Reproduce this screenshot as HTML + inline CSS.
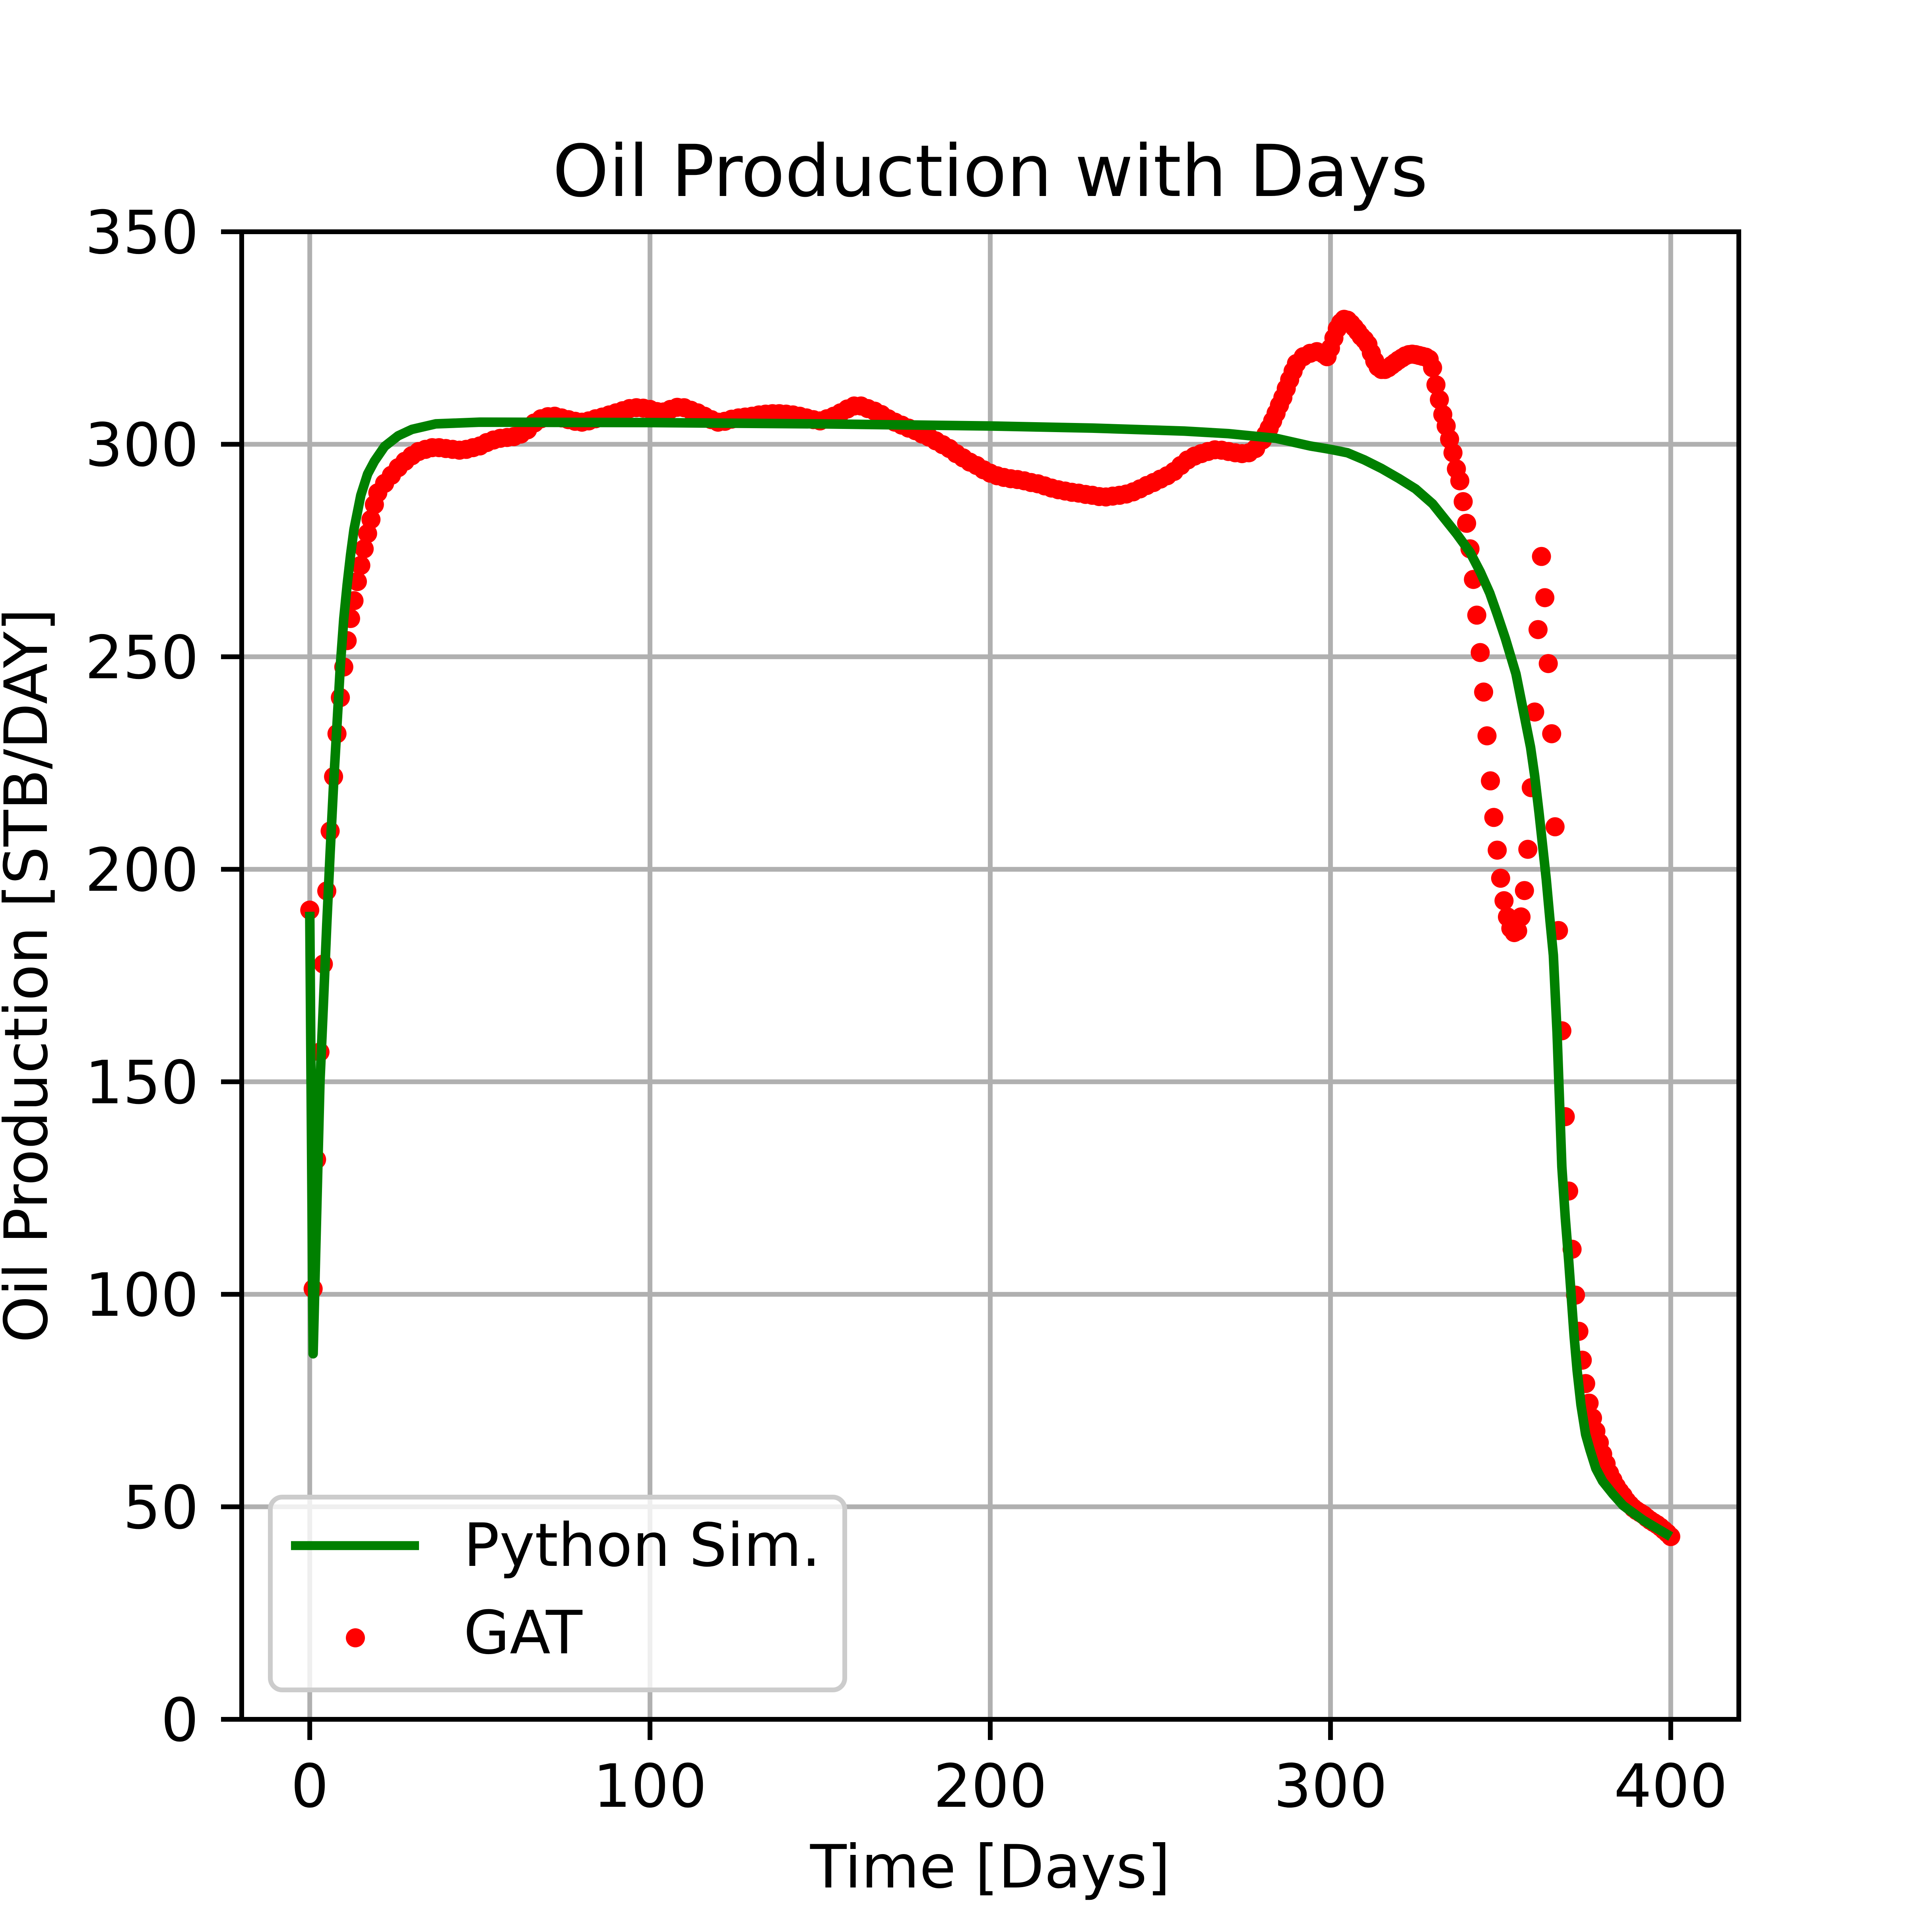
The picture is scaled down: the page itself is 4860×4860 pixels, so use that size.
<!DOCTYPE html>
<html><head><meta charset="utf-8"><style>
html,body{margin:0;padding:0;background:#fff}
svg{display:block}
text{font-family:"DejaVu Sans","Liberation Sans",sans-serif;fill:#000}
</style></head><body>
<svg id="chart" xmlns="http://www.w3.org/2000/svg" width="4860" height="4860" viewBox="0 0 4860 4860">
<rect width="4860" height="4860" fill="#fff"/>
<g id="grid"></g>
<g id="plot"></g>
<rect x="608" y="583" width="3766" height="3742" fill="none" stroke="#000" stroke-width="12"/>
<g id="ticks"></g>
<text x="2491" y="493" font-size="180" text-anchor="middle">Oil Production with Days</text>
<text x="2491" y="4748" font-size="150" text-anchor="middle">Time [Days]</text>
<text x="0" y="0" font-size="150" text-anchor="middle" transform="translate(118,2454) rotate(-90)">Oil Production [STB/DAY]</text>
<g>
<rect x="680" y="3766" width="1445" height="485" rx="30" fill="#fff" fill-opacity="0.8" stroke="#cccccc" stroke-width="12"/>
<line x1="732" y1="3888" x2="1054" y2="3888" stroke="#008000" stroke-width="22.5"/>
<text x="1166" y="3939" font-size="150">Python Sim.</text>
<circle cx="894" cy="4120" r="24" fill="#ff0000"/>
<text x="1166" y="4159" font-size="150">GAT</text>
</g>
</svg>
<script>
const xTicks = [0, 100, 200, 300, 400];
const yTicks = [0, 50, 100, 150, 200, 250, 300, 350];
const simDays = [0,1,2,3,4,5,6,7,8,9,10,11,12,13,15,17,19,22,26,30,37,50,100,150,200,230,257,270,284,294,300,305,310,315,320,325,330,334,337,341,344,346.8,349,351.4,354.5,356,358.8,360,361.3,363.4,364.5,365.5,366.6,368,369,370,371.6,372.5,373.6,375,376.3,378,380,383,386,392,397.7,400];
const simValues = [190,86,118,150,168,187,204,220,234,248,259,267,274,280,288,293,296,299.5,302,303.5,304.8,305.2,305.1,304.8,304.3,303.8,303.1,302.5,301.4,299.6,298.8,298,296.3,294.3,292,289.5,286,282,279,274.6,270,265,260,254.3,246,240,228.7,222,213.2,197.7,188,179.8,161.4,130,118,108,90.2,82,74,67,63.3,59,56,53,50.3,46.8,44.1,43];
const gatDays = [0,1,2,3,4,5,6,7,8,9,10,11,12,13,14,15,16,17,18,19,20,22,24,26,28,30,32,34,36,38,40,42,44,46,48,50,52,54,56,58,60,62,64,66,68,70,72,74,76,78,80,82,84,86,88,90,92,94,96,98,100,102,104,106,108,110,112,114,116,118,120,122,124,126,128,130,132,134,136,138,140,142,144,146,148,150,152,154,156,158,160,162,164,166,168,170,172,174,176,178,180,182,184,186,188,190,192,194,196,198,200,202,204,206,208,210,212,214,216,218,220,222,224,226,228,230,232,234,236,238,240,242,244,246,248,250,252,254,256,258,260,262,264,266,268,270,272,274,276,278,280,281,282,283,284,285,286,287,288,289,290,292,294,296,298,299,300,301,302,303,304,305,306,307,308,309,310,311,312,313,314,315,316,317,318,319,320,321,322,323,324,325,326,327,328,329,330,331,332,333,334,335,336,337,338,339,340,341,342,343,344,345,346,347,348,349,350,351,352,353,354,355,356,357,358,359,360,361,362,363,364,365,366,367,368,369,370,371,372,373,374,375,376,377,378,379,380,381,382,383,384,385,386,387,388,389,390,391,392,393,394,395,396,397,398,399,400];
const gatValues = [190.4,101.3,131.7,157,177.7,194.9,209,221.8,231.9,240.4,247.6,253.8,259,263.2,267.7,271.5,275.4,279,282.3,285.8,288.6,290.8,292.7,294.5,296,297.3,298.3,298.8,299.2,299.2,299,298.8,298.6,298.8,299.2,299.6,300.4,301,301.4,301.6,301.8,302.4,303.4,305,306,306.5,306.6,306.2,305.8,305.4,305.2,305.5,306,306.4,306.9,307.4,307.9,308.4,308.6,308.5,308.2,307.7,307.6,308.2,308.7,308.6,308,307.4,306.6,305.8,305.2,305.4,305.9,306.2,306.4,306.6,306.9,307.1,307.2,307.2,307.1,306.9,306.6,306.2,305.8,305.5,306,306.6,307.4,308.3,309,309,308.4,307.8,307,306,305.2,304.5,303.8,303.2,302.4,301.7,300.8,299.9,299,297.8,296.8,295.8,295,294,293.2,292.6,292.2,291.9,291.7,291.4,291,290.7,290.2,289.7,289.3,289,288.7,288.5,288.2,288,287.7,287.6,287.8,288,288.3,288.8,289.5,290.3,291,291.8,292.6,293.6,295,296.3,297.2,297.8,298.3,298.7,298.6,298.3,298,297.8,298,299,301,302.3,303.8,305.5,307.3,309.2,311,313.1,315.2,317.2,319,320.6,321.4,321.8,321.2,320.6,322.6,325,327.2,328.6,329.4,329.2,328.4,327.5,326.5,325.4,324.6,323.5,321.5,319.6,318.2,317.6,317.6,318,318.6,319.2,319.8,320.3,320.8,321.1,321.2,321.1,320.9,320.7,320.5,320,318,314,310.5,307,304.3,301.2,298,294.2,291.4,286.5,281.4,275.4,268.2,259.8,251,241.7,231.4,220.8,212.2,204.5,197.9,192.6,188.8,186.1,185.1,185.5,188.8,195,204.7,219.2,237,256.4,273.6,263.9,248.4,231.9,210,185.6,162,141.8,124.3,110.6,99.8,91.3,84.5,79,74.4,70.9,67.8,65.1,62.4,60.1,57.9,56.3,54.8,53.6,52.6,51.4,50.5,49.7,49.1,48.6,48.1,47.4,46.8,46.3,45.8,45.2,44.5,43.8,43];

const NS = 'http://www.w3.org/2000/svg';
const AX = {l:608, r:4374, t:583, b:4325, xmin:-20, xmax:420, ymin:0, ymax:350};
function sx(v){ return AX.l + (v - AX.xmin) / (AX.xmax - AX.xmin) * (AX.r - AX.l); }
function sy(v){ return AX.b - (v - AX.ymin) / (AX.ymax - AX.ymin) * (AX.b - AX.t); }
function mk(tag, attrs, parent){
  const el = document.createElementNS(NS, tag);
  for (const k in attrs) el.setAttribute(k, attrs[k]);
  parent.appendChild(el);
  return el;
}
const grid = document.getElementById('grid');
const ticks = document.getElementById('ticks');
const plot = document.getElementById('plot');

xTicks.forEach(function(t){
  const x = sx(t);
  const g = mk('line', {x1:x, y1:AX.t, x2:x, y2:AX.b, stroke:'#b0b0b0', 'stroke-width':12}, grid);
  
  
  const tk = mk('line', {x1:x, y1:AX.b, x2:x, y2:AX.b + 52, stroke:'#000', 'stroke-width':12}, ticks);
  
  
  const lb = mk('text', {x:x, y:4545, 'font-size':150, 'text-anchor':'middle'}, ticks);
  
  
  lb.textContent = String(t);
});
yTicks.forEach(function(t){
  const y = sy(t);
  const g = mk('line', {x1:AX.l, y1:y, x2:AX.r, y2:y, stroke:'#b0b0b0', 'stroke-width':12}, grid);
  
  
  const tk = mk('line', {x1:AX.l - 52, y1:y, x2:AX.l, y2:y, stroke:'#000', 'stroke-width':12}, ticks);
  
  
  const lb = mk('text', {x:500, y:y + 54, 'font-size':150, 'text-anchor':'end'}, ticks);
  
  
  lb.textContent = String(t);
});

let d = '';
simDays.forEach(function(day, i){
  d += (i ? 'L' : 'M') + sx(day).toFixed(1) + ' ' + sy(simValues[i]).toFixed(1);
});
const simLine = mk('path', {d:d, fill:'none', stroke:'#008000', 'stroke-width':24, 'stroke-linejoin':'round'}, plot);



const gatGroup = mk('g', {fill:'#ff0000'}, plot);


gatDays.forEach(function(day, i){
  const c = mk('circle', {cx:sx(day).toFixed(1), cy:sy(gatValues[i]).toFixed(1), r:24}, gatGroup);
  
  
});
plot.appendChild(simLine);
</script>
</body></html>
